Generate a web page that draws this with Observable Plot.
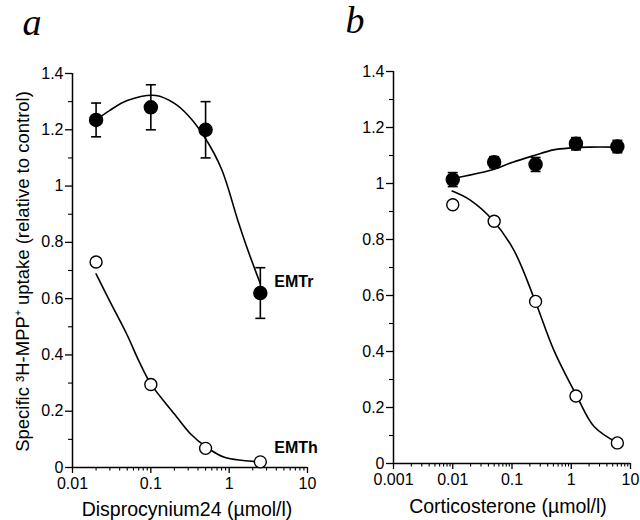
<!DOCTYPE html>
<html><head><meta charset="utf-8">
<script src="https://cdn.jsdelivr.net/npm/d3@7"></script>
<script src="https://cdn.jsdelivr.net/npm/@observablehq/plot@0.6"></script>
<style>
body{margin:0;background:#fff;}
#wrap{position:relative;width:640px;height:520px;overflow:hidden;background:#fff;}
.panel{position:absolute;top:0;}
</style></head><body>
<div id="wrap">
 <div class="panel" id="pa" style="left:0"></div>
 <div class="panel" id="pb" style="left:320px"></div>
</div>
<script>
// ---------- Data: panel a (Disprocynium24) ----------
const aDose = [0.02, 0.1, 0.5, 2.5];
const aEMTr = [1.235, 1.28, 1.2, 0.62];
const aEMTrErr = [0.06, 0.08, 0.1, 0.09];
const aEMTh = [0.73, 0.295, 0.068, 0.02];
// fitted curves
const aFitRx = [0.02, 0.03, 0.05, 0.116, 0.2, 0.3, 0.48, 0.8, 1.29, 1.74, 2.5];
const aFitRy = [1.235, 1.269, 1.304, 1.322, 1.294, 1.251, 1.176, 1.06, 0.878, 0.771, 0.653];
const aFitHx = [0.02, 0.03, 0.05, 0.07, 0.1, 0.2, 0.32, 0.52, 0.87, 1.5, 2.5];
const aFitHy = [0.688, 0.59, 0.47, 0.38, 0.297, 0.19, 0.12, 0.071, 0.036, 0.025, 0.02];

// ---------- Data: panel b (Corticosterone) ----------
const bDose = [0.01, 0.05, 0.25, 1.2, 6];
const bEMTr = [1.014, 1.076, 1.068, 1.142, 1.132];
const bEMTrErr = [0.025, 0.02, 0.025, 0.022, 0.022];
const bEMTh = [0.924, 0.865, 0.579, 0.241, 0.0735];
const bFitRx = [0.01, 0.0435, 0.1, 0.237, 0.5, 1, 2, 6];
const bFitRy = [1.018, 1.047, 1.075, 1.10, 1.12, 1.127, 1.13, 1.13];
const bFitHx = [0.0098, 0.02, 0.048, 0.108, 0.243, 0.51, 1.24, 2.45, 6.1];
const bFitHy = [0.973, 0.94, 0.868, 0.761, 0.583, 0.404, 0.241, 0.131, 0.073];

// ---------- Ticks and labels ----------
const yTicks = [0, 0.2, 0.4, 0.6, 0.8, 1, 1.2, 1.4];
const yMinor = [0.1, 0.3, 0.5, 0.7, 0.9, 1.1, 1.3];
const aXTicks = [0.01, 0.1, 1, 10];
const bXTicks = [0.001, 0.01, 0.1, 1, 10];
const yLabel = "Specific ³H-MPP⁺ uptake (relative to control)";
const aXLabel = "Disprocynium24 (µmol/l)";
const bXLabel = "Corticosterone (µmol/l)";
const seriesLabels = ["EMTr", "EMTh"];
const panelLetters = ["a", "b"];

function minorLog(lo, hi) {
  const out = [];
  for (let e = lo; e < hi; e++) for (let k = 2; k <= 9; k++) out.push(+(k * Math.pow(10, e)).toPrecision(3));
  return out;
}
const fmt = d3.format("~g");
const zip = (xs, ys, es) => xs.map((x, i) => ({x, y: ys[i], e: es ? es[i] : 0}));
const capSymbol = {draw(ctx, size) { const r = Math.sqrt(size / Math.PI); ctx.moveTo(-r, 0); ctx.lineTo(r, 0); }};
const style = {fontFamily: "'Liberation Sans', Arial, sans-serif", fontSize: "16px", overflow: "visible", background: "transparent", color: "black"};

function panel(o) {
  const R = zip(o.dose, o.r, o.rErr);
  const H = zip(o.doseH, o.h);
  const fitR = zip(o.fitRx, o.fitRy);
  const fitH = zip(o.fitHx, o.fitHy);
  const marks = [
    Plot.ruleY([0], {strokeWidth: 1.5}),
    Plot.ruleX([o.xDomain[0]], {strokeWidth: 1.5}),
    Plot.axisX({ticks: o.xTicks, tickSize: 6, tickPadding: 4, tickFormat: fmt, label: null, fontSize: 16, strokeWidth: 1.3}),
    Plot.axisX({ticks: minorLog(Math.round(Math.log10(o.xDomain[0])), Math.round(Math.log10(o.xDomain[1]))), tickSize: 3.5, tickFormat: () => "", label: null, strokeWidth: 1.1}),
    Plot.axisY({ticks: yTicks, tickSize: 7, tickPadding: 2, tickFormat: fmt, label: null, fontSize: 16, strokeWidth: 1.3}),
    Plot.axisY({ticks: yMinor, tickSize: 4, tickFormat: () => "", label: null, strokeWidth: 1.1}),
    Plot.line(fitR, {x: "x", y: "y", curve: "catmull-rom", strokeWidth: 1.6}),
    Plot.line(fitH, {x: "x", y: "y", curve: "catmull-rom", strokeWidth: 1.6}),
    Plot.ruleX(R, {x: "x", y1: d => d.y - d.e, y2: d => d.y + d.e, strokeWidth: 1.6}),
    Plot.dot(R, {x: "x", y: d => d.y + d.e, symbol: capSymbol, r: 5, stroke: "black", strokeWidth: 1.6, fill: "none"}),
    Plot.dot(R, {x: "x", y: d => d.y - d.e, symbol: capSymbol, r: 5, stroke: "black", strokeWidth: 1.6, fill: "none"}),
    Plot.dot(R, {x: "x", y: "y", r: 6.5, fill: "black", stroke: "black"}),
    Plot.dot(H, {x: "x", y: "y", r: 6, fill: "white", stroke: "black", strokeWidth: 1.4}),
    Plot.text([o.xLabel], {frameAnchor: "bottom", dy: o.xLabelDy, dx: o.xLabelDx, textAnchor: "middle", lineAnchor: "bottom", fontSize: 19.5}),
    Plot.text([o.letter], {frameAnchor: "top-left", dx: o.letterDx, dy: o.letterDy, textAnchor: "start", lineAnchor: "bottom", fontSize: 38, fontStyle: "italic", fontFamily: "'Liberation Serif', 'Times New Roman', serif"})
  ];
  if (o.yLabel) marks.push(Plot.text([o.yLabel], {frameAnchor: "left", rotate: -90, dx: -44, dy: 1, textAnchor: "middle", lineAnchor: "bottom", fontSize: 18.5}));
  if (o.seriesText) {
    marks.push(Plot.text([R[R.length - 1]], {x: "x", y: "y", text: () => seriesLabels[0], dx: 14, dy: -6.5, textAnchor: "start", lineAnchor: "bottom", fontWeight: "bold", fontSize: 16}));
    marks.push(Plot.text([H[H.length - 1]], {x: "x", y: "y", text: () => seriesLabels[1], dx: 14, dy: -9, textAnchor: "start", lineAnchor: "bottom", fontWeight: "bold", fontSize: 16}));
  }
  return Plot.plot({
    width: 320, height: 520,
    marginLeft: o.ml, marginRight: o.mr, marginTop: o.mt, marginBottom: o.mb,
    x: {type: "log", domain: o.xDomain},
    y: {domain: [0, 1.4]},
    style,
    marks
  });
}

document.getElementById("pa").appendChild(panel({
  dose: aDose, r: aEMTr, rErr: aEMTrErr, doseH: aDose, h: aEMTh,
  fitRx: aFitRx, fitRy: aFitRy, fitHx: aFitHx, fitHy: aFitHy,
  xDomain: [0.01, 10], xTicks: aXTicks, xLabel: aXLabel, xLabelDy: 48, xLabelDx: -3,
  letter: panelLetters[0], letterDx: -50, letterDy: -39,
  yLabel: yLabel, seriesText: true,
  ml: 72, mr: 13, mt: 73, mb: 53
}));
document.getElementById("pb").appendChild(panel({
  dose: bDose, r: bEMTr, rErr: bEMTrErr, doseH: bDose, h: bEMTh,
  fitRx: bFitRx, fitRy: bFitRy, fitHx: bFitHx, fitHy: bFitHy,
  xDomain: [0.001, 10], xTicks: bXTicks, xLabel: bXLabel, xLabelDy: 49, xLabelDx: -4,
  letter: panelLetters[1], letterDx: -48, letterDy: -39,
  yLabel: null, seriesText: false,
  ml: 73, mr: 10, mt: 71, mb: 57
}));
</script>
</body></html>
